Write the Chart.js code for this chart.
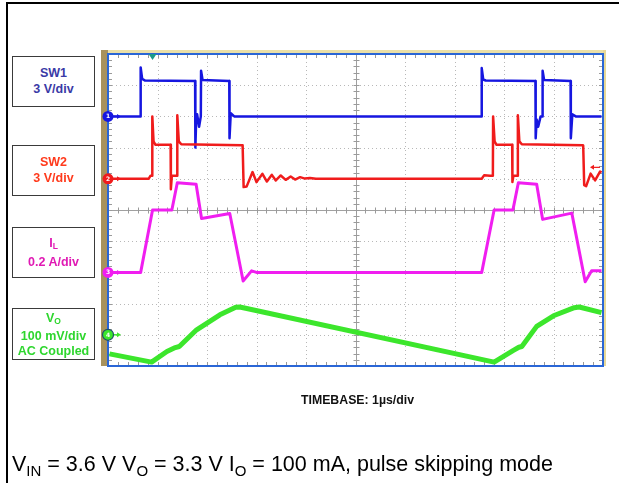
<!DOCTYPE html>
<html>
<head>
<meta charset="utf-8">
<script src="https://cdn.jsdelivr.net/npm/chart.js@4.4.0/dist/chart.umd.min.js"></script>
<style>
  html, body { margin: 0; padding: 0; background: #fff; }
  body { width: 619px; height: 483px; position: relative; overflow: hidden; font-family: "Liberation Sans", Arial, sans-serif; }
  #frameTop { position: absolute; left: 6px; top: 2px; width: 613px; height: 2px; background: #000; }
  #frameLeft { position: absolute; left: 6px; top: 2px; width: 2px; height: 481px; background: #000; }
  #scope { position: absolute; left: 0; top: 0; }
  .chbox { position: absolute; left: 12px; width: 83px; border: 1.5px solid #3a3a3a; background: #fff;
           font-weight: bold; font-size: 12.5px; text-align: center; line-height: 16px; box-sizing: border-box; }
  .chbox sub { font-size: 8.5px; vertical-align: -2px; }
  #timebase { position: absolute; left: 0; width: 715px; top: 393px; text-align: center; font-weight: bold; font-size: 12.3px; color: #111; }
  #caption { position: absolute; left: 12px; top: 452px; font-size: 21.5px; color: #000; white-space: nowrap; }
  #caption sub { font-size: 15px; vertical-align: -5px; }
</style>
</head>
<body>
<div id="frameTop"></div>
<div id="frameLeft"></div>
<canvas id="scope" width="619" height="483"></canvas>

<div class="chbox" style="top:56px;height:51px;padding-top:8px;color:#3a3aa6">SW1<br>3 V/div</div>
<div class="chbox" style="top:145px;height:51px;padding-top:8px;color:#ff3a1c">SW2<br>3 V/div</div>
<div class="chbox" style="top:227px;height:51px;padding-top:7px;color:#e01ab4">I<sub>L</sub><br>0.2 A/div</div>
<div class="chbox" style="top:308px;height:52px;padding-top:2px;line-height:15px;color:#2ed62e">V<sub>O</sub><br>100 mV/div<br>AC Coupled</div>

<div id="timebase">TIMEBASE: 1µs/div</div>
<div id="caption">V<sub>IN</sub> = 3.6 V V<sub>O</sub> = 3.3 V I<sub>O</sub> = 100 mA, pulse skipping mode</div>

<script>
// 示波器截圖：四個通道，時間軸 1 µs/div，共 10 格

// SW1 (V)
const sw1Time = [0, 0.655, 0.66, 0.69, 0.75, 1.76, 1.765, 1.78, 1.80, 1.84, 1.875, 1.88, 1.91, 2.45, 2.455, 2.48, 2.55,
                 7.545, 7.55, 7.58, 7.63, 8.635, 8.64, 8.66, 8.69, 8.74, 8.775, 8.78, 8.81, 9.345, 9.35, 9.38, 9.45, 9.97];
const sw1Volt = [0, 0, 4.7, 3.6, 3.45, 3.4, -3.0, -0.5, 0.2, -1.0, 0, 4.4, 3.5, 3.4, -2.1, 0.3, 0,
                 0, 4.65, 3.55, 3.45, 3.4, -2.1, -0.3, -1.0, 0, 0, 4.4, 3.5, 3.4, -2.1, 0.2, 0, 0];

// SW2 (V)
const sw2Time = [0, 0.82, 0.86, 0.89, 0.895, 0.92, 0.96, 1.265, 1.27, 1.29, 1.395, 1.40, 1.43, 1.48, 2.715, 2.72, 2.74, 2.80,
                 2.92, 3.00, 3.12, 3.21, 3.31, 3.39, 3.49, 3.59, 3.69, 3.78, 3.88, 3.98, 4.08, 4.2,
                 7.55, 7.60, 7.72, 7.775, 7.78, 7.81, 7.85, 8.165, 8.17, 8.19, 8.275, 8.28, 8.31, 8.36, 9.595, 9.60, 9.62, 9.66,
                 9.75, 9.84, 9.94, 9.97];
const sw2Volt = [0, 0, 0.3, 0.3, 6.0, 3.6, 3.27, 3.27, -1.0, 0.3, 0.3, 6.1, 3.6, 3.32, 3.22, 3.2, -0.8, -0.75,
                 0.65, -0.32, 0.48, -0.26, 0.38, -0.16, 0.32, -0.1, 0.22, -0.07, 0.16, 0.02, 0.08, 0,
                 0, 0.35, 0.3, 0.3, 6.0, 3.6, 3.27, 3.27, -0.3, 0.3, 0.3, 6.1, 3.6, 3.32, 3.22, 3.2, -0.6, -0.7,
                 0.5, -0.15, 0.7, 0.6];

// IL (A)
const ilTime = [0, 0.66, 0.90, 1.29, 1.40, 1.78, 1.89, 2.46, 2.73, 2.90, 3.0,
                7.55, 7.80, 8.18, 8.29, 8.66, 8.78, 9.37, 9.64, 9.77, 9.97];
const ilAmp  = [0, 0, 0.40, 0.40, 0.575, 0.565, 0.345, 0.378, -0.055, 0.01, 0,
                0, 0.40, 0.40, 0.575, 0.565, 0.34, 0.38, -0.06, 0.01, 0.01];

// VO (mV, AC coupled)
const voTime = [0.03, 0.88, 1.19, 1.36, 1.44, 1.79, 2.26, 2.58, 2.66, 2.78, 7.80,
                8.19, 8.30, 8.36, 8.66, 9.0, 9.42, 9.52, 9.97];
const voMv   = [-61, -87.5, -53.5, -41, -37.5, 16, 64, 88, 89, 85, -87.5,
                -50, -40, -37.5, 27, 61, 87, 89, 71];

const triggerTime = 0.9;    // µs
const triggerLevel = 1.1;   // V on SW2

// 通道設定：每格刻度、零點位置（從上方數第幾格）
const channels = [
  { id: 'ySW1', name: '1', perDiv: 3,   zeroDiv: 2, color: '#1616e0', time: sw1Time, values: sw1Volt, width: 2.5 },
  { id: 'ySW2', name: '2', perDiv: 3,   zeroDiv: 4, color: '#f01c1c', time: sw2Time, values: sw2Volt, width: 2.5 },
  { id: 'yIL',  name: '3', perDiv: 0.2, zeroDiv: 7, color: '#f01ef0', time: ilTime,  values: ilAmp,   width: 3 },
  { id: 'yVO',  name: '4', perDiv: 100, zeroDiv: 9, color: '#3ce62c', time: voTime,  values: voMv,    width: 5 }
];

const scales = {
  x: { type: 'linear', min: 0, max: 10, display: false },
  yDiv: { type: 'linear', min: 0, max: 10, display: false, reverse: true }
};
channels.forEach(ch => {
  scales[ch.id] = { type: 'linear', display: false, max: ch.zeroDiv * ch.perDiv, min: -(10 - ch.zeroDiv) * ch.perDiv };
});

// draw order: green first, blue last
const datasets = channels.slice().reverse().map(ch => ({
  label: ch.name,
  yAxisID: ch.id,
  data: ch.time.map((t, i) => ({ x: t, y: ch.values[i] })),
  borderColor: ch.color,
  borderWidth: ch.width,
  pointRadius: 0,
  tension: 0,
  fill: false,
  borderJoinStyle: 'round'
}));

// 螢幕格線、外框
const screenPlugin = {
  id: 'screen',
  beforeDatasetsDraw(chart) {
    const { ctx, chartArea: a } = chart;
    const sx = chart.scales.x, sy = chart.scales.yDiv;
    ctx.save();
    ctx.fillStyle = '#ebe0a8';
    ctx.fillRect(a.left - 7, a.top - 4, a.right - a.left + 10, 4);
    ctx.fillStyle = '#a8925c';
    ctx.fillRect(a.left - 7, a.top - 4, 7, a.bottom - a.top + 4);
    ctx.fillStyle = '#e6d898';
    ctx.fillRect(a.right, a.top - 4, 3, a.bottom - a.top + 4);
    ctx.fillStyle = '#fff';
    ctx.fillRect(a.left, a.top, a.right - a.left, a.bottom - a.top);

    // dotted grid
    ctx.strokeStyle = '#b8b8b8';
    ctx.lineWidth = 1;
    ctx.setLineDash([1, 3]);
    for (let i = 1; i < 10; i++) {
      if (i === 5) continue;
      const px = Math.round(sx.getPixelForValue(i)) + 0.5;
      const py = Math.round(sy.getPixelForValue(i)) + 0.5;
      ctx.beginPath(); ctx.moveTo(px, a.top); ctx.lineTo(px, a.bottom); ctx.stroke();
      ctx.beginPath(); ctx.moveTo(a.left, py); ctx.lineTo(a.right, py); ctx.stroke();
    }
    ctx.setLineDash([]);

    // center cross
    ctx.strokeStyle = '#a0a0a0';
    const cx = Math.round(sx.getPixelForValue(5)) + 0.5;
    const cy = Math.round(sy.getPixelForValue(5)) + 0.5;
    ctx.beginPath(); ctx.moveTo(cx, a.top); ctx.lineTo(cx, a.bottom); ctx.stroke();
    ctx.beginPath(); ctx.moveTo(a.left, cy); ctx.lineTo(a.right, cy); ctx.stroke();

    // minor ticks every 0.2 div
    ctx.strokeStyle = '#9a9a9a';
    ctx.beginPath();
    for (let k = 1; k < 50; k++) {
      const px = Math.round(sx.getPixelForValue(k / 5)) + 0.5;
      const py = Math.round(sy.getPixelForValue(k / 5)) + 0.5;
      ctx.moveTo(px, cy - 3); ctx.lineTo(px, cy + 3);
      ctx.moveTo(cx - 3, py); ctx.lineTo(cx + 3, py);
      ctx.moveTo(px, a.top); ctx.lineTo(px, a.top + 4);
      ctx.moveTo(px, a.bottom); ctx.lineTo(px, a.bottom - 4);
      ctx.moveTo(a.left, py); ctx.lineTo(a.left + 4, py);
      ctx.moveTo(a.right, py); ctx.lineTo(a.right - 4, py);
    }
    ctx.stroke();

    // blue border
    ctx.strokeStyle = '#2a66d6';
    ctx.lineWidth = 2;
    ctx.strokeRect(a.left, a.top, a.right - a.left, a.bottom - a.top);
    ctx.restore();
  },
  afterDatasetsDraw(chart) {
    const { ctx, chartArea: a } = chart;
    ctx.save();
    // ground markers
    channels.forEach(ch => {
      const y = chart.scales[ch.id].getPixelForValue(0);
      const x = a.left;
      ctx.strokeStyle = ch.color;
      ctx.fillStyle = ch.color;
      ctx.lineWidth = 1.5;
      ctx.beginPath(); ctx.moveTo(x + 4, y); ctx.lineTo(x + 11, y); ctx.stroke();
      ctx.beginPath(); ctx.moveTo(x + 13, y); ctx.lineTo(x + 9, y - 2.5); ctx.lineTo(x + 9, y + 2.5); ctx.closePath(); ctx.fill();
      ctx.beginPath(); ctx.arc(x, y, 5.5, 0, Math.PI * 2); ctx.fill();
      if (ch.id === 'yVO') { ctx.strokeStyle = '#1d4f6a'; ctx.lineWidth = 1.2; ctx.stroke(); }
      ctx.fillStyle = '#fff';
      ctx.font = 'bold 6px "DejaVu Sans"';
      ctx.textAlign = 'center'; ctx.textBaseline = 'middle';
      ctx.fillText(ch.name, x, y + 0.5);
    });
    // trigger position
    const tx = chart.scales.x.getPixelForValue(triggerTime);
    ctx.fillStyle = '#1a9a88';
    ctx.beginPath(); ctx.moveTo(tx - 4, a.top); ctx.lineTo(tx + 4, a.top); ctx.lineTo(tx, a.top + 6); ctx.closePath(); ctx.fill();
    // trigger level
    const ty = chart.scales.ySW2.getPixelForValue(triggerLevel);
    ctx.strokeStyle = '#f01c1c'; ctx.fillStyle = '#f01c1c'; ctx.lineWidth = 1.2;
    ctx.beginPath(); ctx.moveTo(a.right - 3, ty); ctx.lineTo(a.right - 10, ty); ctx.stroke();
    ctx.beginPath(); ctx.moveTo(a.right - 13, ty); ctx.lineTo(a.right - 9, ty - 2.5); ctx.lineTo(a.right - 9, ty + 2.5); ctx.closePath(); ctx.fill();
    ctx.restore();
  }
};

const chart = new Chart(document.getElementById('scope').getContext('2d'), {
  type: 'line',
  data: { datasets: datasets },
  options: {
    responsive: false,
    animation: false,
    layout: { padding: { left: 108, top: 54, right: 16, bottom: 117 } },
    plugins: { legend: { display: false }, tooltip: { enabled: false } },
    scales: scales
  },
  plugins: [screenPlugin]
});
</script>
</body>
</html>
